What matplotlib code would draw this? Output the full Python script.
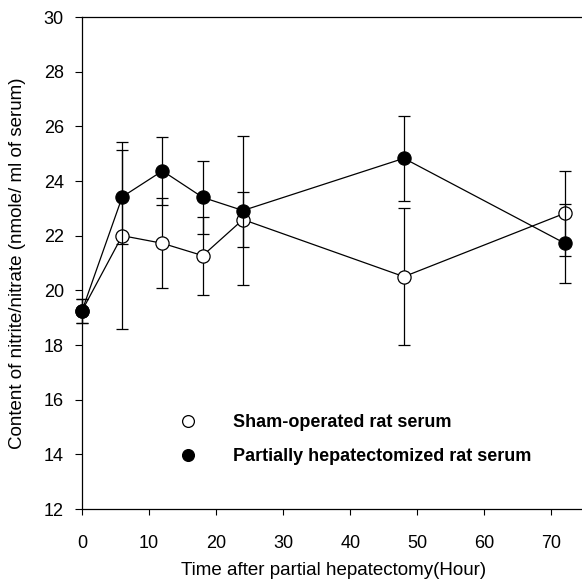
import matplotlib
matplotlib.use('Agg')
import matplotlib.pyplot as plt
from matplotlib.lines import Line2D

plt.rcParams['font.family'] = ['Liberation Sans', 'DejaVu Sans']

# data
hours = [0, 6, 12, 18, 24, 48, 72]
sham = [19.25, 22.0, 21.72, 21.27, 22.59, 20.5, 22.82]
sham_err = [0.45, 3.43, 1.65, 1.43, 1.02, 2.5, 1.55]
hepat = [19.25, 23.42, 24.37, 23.4, 22.92, 24.83, 21.72]
hepat_err = [0.45, 1.72, 1.25, 1.33, 2.74, 1.55, 1.45]

x_ticks = [0, 10, 20, 30, 40, 50, 60, 70]
y_ticks = [12, 14, 16, 18, 20, 22, 24, 26, 28, 30]
labels = ['Sham-operated rat serum', 'Partially hepatectomized rat serum']

fig = plt.figure(figsize=(5.82, 5.83), dpi=100)
ax = fig.add_axes([82 / 582, 74 / 583, 503 / 582, 492 / 583])

# sham first, hepatectomized on top
ax.errorbar(hours, sham, yerr=sham_err, color='black', lw=0.9, elinewidth=0.9,
            capsize=4, capthick=0.9, marker='o', ms=9.5, mfc='white',
            mec='black', mew=0.9, zorder=3, clip_on=False)
ax.errorbar(hours, hepat, yerr=hepat_err, color='black', lw=0.9, elinewidth=0.9,
            capsize=4, capthick=0.9, marker='o', ms=9.5, mfc='black',
            mec='black', mew=0.9, zorder=4, clip_on=False)

ax.set_xlim(0, 75)
ax.set_ylim(12, 30)
ax.set_xticks(x_ticks)
ax.set_yticks(y_ticks)
ax.tick_params(axis='x', direction='out', length=4, width=0.8, labelsize=13, pad=15)
ax.tick_params(axis='y', direction='out', length=5, width=0.8, labelsize=13, pad=8)
ax.spines['right'].set_visible(False)
for s in ['left', 'top', 'bottom']:
    ax.spines[s].set_linewidth(0.9)

ax.set_xlabel('Time after partial hepatectomy(Hour)', fontsize=13.5, labelpad=7)
ax.set_ylabel('Content of nitrite/nitrate (nmole/ ml of serum)', fontsize=13.5, labelpad=13)

handles = [
    Line2D([], [], ls='none', marker='o', ms=8.5, mfc='white', mec='black', mew=0.9),
    Line2D([], [], ls='none', marker='o', ms=8.5, mfc='black', mec='black', mew=0.9),
]
fig.legend(handles, labels, loc='upper left', bbox_to_anchor=(179 / 582, 1 - 414 / 583),
           frameon=False, borderpad=0, borderaxespad=0, handlelength=1.0,
           handletextpad=2.0, labelspacing=0.95,
           prop={'weight': 'bold', 'size': 13})

fig.savefig('out.png', dpi=100)
